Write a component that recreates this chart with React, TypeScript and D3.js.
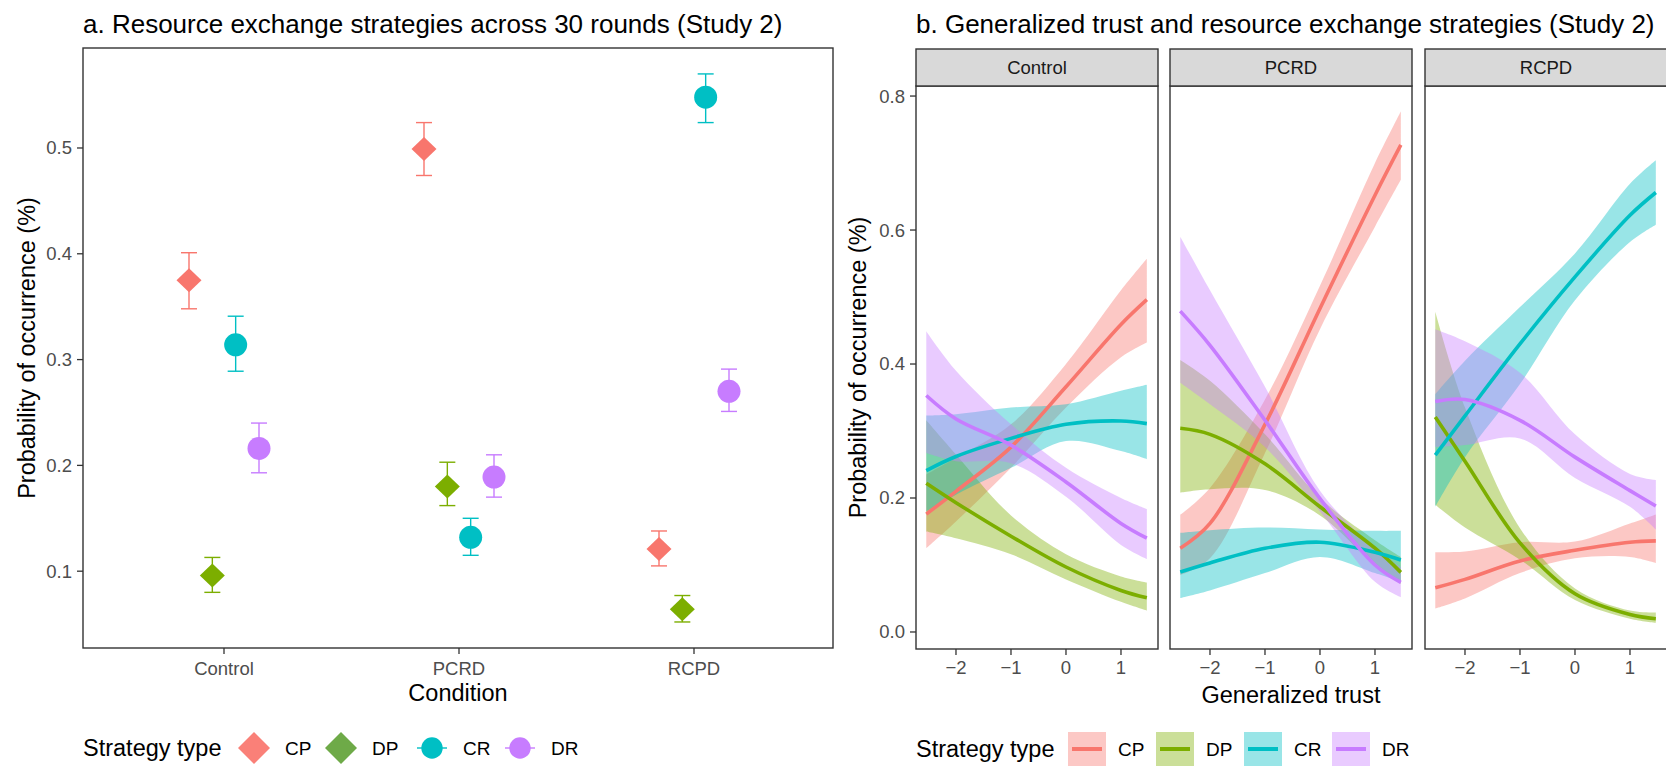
import React from "react";
import * as d3 from "d3";

// ---------- data ----------
const conditions = ["Control", "PCRD", "RCPD"];
const strategies = ["CP", "DP", "CR", "DR"];
const colors = ["#F8766D", "#7CAE00", "#00BFC4", "#C77CFF"];
const legendFillA = ["#FA8078", "#6EAA48", "#00BFC4", "#C77CFF"];

// Panel a: estimate, lower, upper per condition
const estCP = [0.375, 0.499, 0.121];
const lowCP = [0.348, 0.474, 0.105];
const highCP = [0.401, 0.524, 0.138];
const estDP = [0.096, 0.18, 0.064];
const lowDP = [0.08, 0.162, 0.052];
const highDP = [0.113, 0.203, 0.077];
const estCR = [0.314, 0.132, 0.548];
const lowCR = [0.289, 0.115, 0.524];
const highCR = [0.341, 0.15, 0.57];
const estDR = [0.216, 0.189, 0.27];
const lowDR = [0.193, 0.17, 0.251];
const highDR = [0.24, 0.21, 0.291];

const yTicksA = [0.1, 0.2, 0.3, 0.4, 0.5];

// Panel b: generalized trust grid and predicted values
const trust = [-2.54, -2, -1, 0, 1, 1.47];

const ctrlCPfit = [0.176, 0.21, 0.276, 0.366, 0.459, 0.496];
const ctrlCPlo = [0.125, 0.165, 0.245, 0.335, 0.41, 0.432];
const ctrlCPhi = [0.235, 0.26, 0.31, 0.4, 0.51, 0.557];
const ctrlDPfit = [0.222, 0.193, 0.143, 0.097, 0.062, 0.051];
const ctrlDPlo = [0.15, 0.14, 0.116, 0.0785, 0.045, 0.032];
const ctrlDPhi = [0.316, 0.265, 0.174, 0.116, 0.083, 0.074];
const ctrlCRfit = [0.241, 0.262, 0.289, 0.31, 0.315, 0.311];
const ctrlCRlo = [0.18, 0.205, 0.245, 0.285, 0.27, 0.258];
const ctrlCRhi = [0.323, 0.325, 0.335, 0.34, 0.36, 0.369];
const ctrlDRfit = [0.353, 0.318, 0.279, 0.224, 0.162, 0.14];
const ctrlDRlo = [0.267, 0.255, 0.252, 0.202, 0.13, 0.109];
const ctrlDRhi = [0.449, 0.39, 0.31, 0.245, 0.2, 0.1835];

const pcrdCPfit = [0.125, 0.162, 0.31, 0.483, 0.652, 0.727];
const pcrdCPlo = [0.085, 0.11, 0.267, 0.452, 0.605, 0.675];
const pcrdCPhi = [0.175, 0.215, 0.347, 0.517, 0.7, 0.777];
const pcrdDPfit = [0.304, 0.295, 0.251, 0.187, 0.125, 0.089];
const pcrdDPlo = [0.208, 0.213, 0.212, 0.174, 0.1, 0.072];
const pcrdDPhi = [0.406, 0.375, 0.295, 0.2, 0.137, 0.112];
const pcrdCRfit = [0.0896, 0.103, 0.125, 0.134, 0.119, 0.1075];
const pcrdCRlo = [0.0507, 0.062, 0.088, 0.112, 0.088, 0.075];
const pcrdCRhi = [0.148, 0.152, 0.156, 0.153, 0.151, 0.151];
const pcrdDRfit = [0.479, 0.428, 0.316, 0.199, 0.1, 0.074];
const pcrdDRlo = [0.372, 0.34, 0.276, 0.18, 0.075, 0.052];
const pcrdDRhi = [0.59, 0.51, 0.366, 0.211, 0.125, 0.097];

const rcpdCPfit = [0.066, 0.0785, 0.106, 0.122, 0.134, 0.136];
const rcpdCPlo = [0.035, 0.05, 0.088, 0.11, 0.112, 0.103];
const rcpdCPhi = [0.119, 0.12, 0.134, 0.135, 0.162, 0.1755];
const rcpdDPfit = [0.321, 0.255, 0.133, 0.057, 0.026, 0.0198];
const rcpdDPlo = [0.19, 0.156, 0.108, 0.0476, 0.0198, 0.0136];
const rcpdDPhi = [0.478, 0.335, 0.155, 0.065, 0.032, 0.029];
const rcpdCRfit = [0.264, 0.3226, 0.43, 0.53, 0.622, 0.656];
const rcpdCRlo = [0.187, 0.261, 0.37, 0.495, 0.582, 0.608];
const rcpdCRhi = [0.355, 0.405, 0.485, 0.565, 0.669, 0.704];
const rcpdDRfit = [0.344, 0.347, 0.316, 0.261, 0.211, 0.188];
const rcpdDRlo = [0.276, 0.279, 0.289, 0.23, 0.187, 0.153];
const rcpdDRhi = [0.452, 0.434, 0.387, 0.295, 0.236, 0.227];

const xTicksB = [-2, -1, 0, 1];
const yTicksB = [0, 0.2, 0.4, 0.6, 0.8];

// ---------- assembled tables ----------
const panelA = [
  { est: estCP, lo: lowCP, hi: highCP },
  { est: estDP, lo: lowDP, hi: highDP },
  { est: estCR, lo: lowCR, hi: highCR },
  { est: estDR, lo: lowDR, hi: highDR },
];
const panelB = [
  [
    { fit: ctrlCPfit, lo: ctrlCPlo, hi: ctrlCPhi },
    { fit: ctrlDPfit, lo: ctrlDPlo, hi: ctrlDPhi },
    { fit: ctrlCRfit, lo: ctrlCRlo, hi: ctrlCRhi },
    { fit: ctrlDRfit, lo: ctrlDRlo, hi: ctrlDRhi },
  ],
  [
    { fit: pcrdCPfit, lo: pcrdCPlo, hi: pcrdCPhi },
    { fit: pcrdDPfit, lo: pcrdDPlo, hi: pcrdDPhi },
    { fit: pcrdCRfit, lo: pcrdCRlo, hi: pcrdCRhi },
    { fit: pcrdDRfit, lo: pcrdDRlo, hi: pcrdDRhi },
  ],
  [
    { fit: rcpdCPfit, lo: rcpdCPlo, hi: rcpdCPhi },
    { fit: rcpdDPfit, lo: rcpdDPlo, hi: rcpdDPhi },
    { fit: rcpdCRfit, lo: rcpdCRlo, hi: rcpdCRhi },
    { fit: rcpdDRfit, lo: rcpdDRlo, hi: rcpdDRhi },
  ],
];

const FONT = "'Liberation Sans', Arial, Helvetica, sans-serif";
const AXIS = "#333333";
const TICKTXT = "#4D4D4D";
const CURVE = d3.curveCatmullRom.alpha(0.5);

export default function App() {
  // ----- panel a geometry -----
  const aL = 83, aR = 833, aT = 48, aB = 648;
  const xA = d3.scalePoint<string>().domain(conditions).range([224, 694]);
  const yA = d3.scaleLinear().domain([0.0274, 0.5945]).range([aB, aT]);
  const dodge = d3.scalePoint<string>().domain(strategies).range([-35, 35]);

  // ----- panel b geometry -----
  const bT = 86, bB = 649, stripT = 49;
  const facetLeft = [916, 1170, 1425];
  const facetW = 242;
  const yB = d3.scaleLinear().domain([-0.0254, 0.815]).range([bB, bT]);

  const diamond = (cx: number, cy: number, hw: number, hh: number) =>
    `M${cx},${cy - hh}L${cx + hw},${cy}L${cx},${cy + hh}L${cx - hw},${cy}Z`;

  return (
    <svg
      width={1666}
      height={768}
      style={{ position: "absolute", left: 0, top: 0, background: "#fff" }}
      fontFamily={FONT}
    >
      <rect x={0} y={0} width={1666} height={768} fill="#fff" />

      {/* ================= Panel a ================= */}
      <text x={aL} y={33} fontSize={26} fill="#000">
        a. Resource exchange strategies across 30 rounds (Study 2)
      </text>
      {yTicksA.map((t) => (
        <g key={t}>
          <line x1={aL - 6} x2={aL} y1={yA(t)} y2={yA(t)} stroke={AXIS} strokeWidth={1.3} />
          <text x={aL - 11} y={yA(t)} dy="0.35em" textAnchor="end" fontSize={18.5} fill={TICKTXT}>
            {d3.format(".1f")(t)}
          </text>
        </g>
      ))}
      {conditions.map((c) => (
        <g key={c}>
          <line x1={xA(c)} x2={xA(c)} y1={aB} y2={aB + 6} stroke={AXIS} strokeWidth={1.3} />
          <text x={xA(c)} y={669} dy="0.35em" textAnchor="middle" fontSize={18.5} fill={TICKTXT}>
            {c}
          </text>
        </g>
      ))}
      <text x={(aL + aR) / 2} y={693} dy="0.35em" textAnchor="middle" fontSize={23.5} fill="#000">
        Condition
      </text>
      <text
        transform={`translate(27,${(aT + aB) / 2}) rotate(-90)`}
        textAnchor="middle"
        dy="0.35em"
        fontSize={23.5}
        fill="#000"
      >
        Probability of occurrence (%)
      </text>

      {panelA.map((s, si) =>
        conditions.map((c, ci) => {
          const cx = (xA(c) as number) + (dodge(strategies[si]) as number);
          const cy = yA(s.est[ci]);
          const col = colors[si];
          return (
            <g key={`${si}-${ci}`}>
              <line x1={cx} x2={cx} y1={yA(s.lo[ci])} y2={yA(s.hi[ci])} stroke={col} strokeWidth={1.4} />
              <line x1={cx - 8} x2={cx + 8} y1={yA(s.lo[ci])} y2={yA(s.lo[ci])} stroke={col} strokeWidth={1.4} />
              <line x1={cx - 8} x2={cx + 8} y1={yA(s.hi[ci])} y2={yA(s.hi[ci])} stroke={col} strokeWidth={1.4} />
              {si < 2 ? (
                <path d={diamond(cx, cy, 12.5, 12)} fill={col} />
              ) : (
                <circle cx={cx} cy={cy} r={11.5} fill={col} />
              )}
            </g>
          );
        })
      )}
      <rect x={aL} y={aT} width={aR - aL} height={aB - aT} fill="none" stroke={AXIS} strokeWidth={1.4} />

      {/* legend a */}
      <text x={83} y={748} dy="0.35em" fontSize={23.5} fill="#000">
        Strategy type
      </text>
      {strategies.map((s, i) => {
        const cx = [254, 341, 432, 520][i];
        const cy = 748;
        return (
          <g key={s}>
            <line x1={cx - 15} x2={cx + 15} y1={cy} y2={cy} stroke={colors[i]} strokeWidth={1.4} />
            {i < 2 ? (
              <path d={diamond(cx, cy, 16, 16)} fill={legendFillA[i]} />
            ) : (
              <circle cx={cx} cy={cy} r={10.7} fill={colors[i]} />
            )}
            <text x={cx + 31} y={cy} dy="0.35em" fontSize={19} fill="#000">
              {s}
            </text>
          </g>
        );
      })}

      {/* ================= Panel b ================= */}
      <text x={916} y={33} fontSize={26} fill="#000">
        b. Generalized trust and resource exchange strategies (Study 2)
      </text>
      {yTicksB.map((t) => (
        <g key={t}>
          <line x1={facetLeft[0] - 6} x2={facetLeft[0]} y1={yB(t)} y2={yB(t)} stroke={AXIS} strokeWidth={1.3} />
          <text x={facetLeft[0] - 11} y={yB(t)} dy="0.35em" textAnchor="end" fontSize={18.5} fill={TICKTXT}>
            {d3.format(".1f")(t)}
          </text>
        </g>
      ))}
      <text
        transform={`translate(858,${(bT + bB) / 2}) rotate(-90)`}
        textAnchor="middle"
        dy="0.35em"
        fontSize={23.5}
        fill="#000"
      >
        Probability of occurrence (%)
      </text>
      <text x={1291} y={695} dy="0.35em" textAnchor="middle" fontSize={23.5} fill="#000">
        Generalized trust
      </text>

      {conditions.map((c, fi) => {
        const left = facetLeft[fi];
        const xB = d3.scaleLinear().domain([-2.727, 1.673]).range([left, left + facetW]);
        const line = d3
          .line<number>()
          .x((_, k) => xB(trust[k]))
          .y((d) => yB(d))
          .curve(CURVE);
        const series = panelB[fi];
        return (
          <g key={c}>
            <defs>
              <clipPath id={`clip-${fi}`}>
                <rect x={left} y={bT} width={facetW} height={bB - bT} />
              </clipPath>
            </defs>
            <g clipPath={`url(#clip-${fi})`}>
              {series.map((s, si) => {
                const ar = d3
                  .area<number>()
                  .x((_, k) => xB(trust[k]))
                  .y0((_, k) => yB(s.lo[k]))
                  .y1((_, k) => yB(s.hi[k]))
                  .curve(CURVE);
                return <path key={si} d={ar(s.fit) || ""} fill={colors[si]} fillOpacity={0.4} stroke="none" />;
              })}
              {series.map((s, si) => (
                <path key={si} d={line(s.fit) || ""} fill="none" stroke={colors[si]} strokeWidth={3.6} />
              ))}
            </g>
            <rect x={left} y={bT} width={facetW} height={bB - bT} fill="none" stroke={AXIS} strokeWidth={1.4} />
            <rect x={left} y={stripT} width={facetW} height={bT - stripT} fill="#D9D9D9" stroke={AXIS} strokeWidth={1.4} />
            <text x={left + facetW / 2} y={(stripT + bT) / 2} dy="0.35em" textAnchor="middle" fontSize={18.5} fill="#1A1A1A">
              {c}
            </text>
            {xTicksB.map((t) => (
              <g key={t}>
                <line x1={xB(t)} x2={xB(t)} y1={bB} y2={bB + 6} stroke={AXIS} strokeWidth={1.3} />
                <text x={xB(t)} y={668} dy="0.35em" textAnchor="middle" fontSize={18.5} fill={TICKTXT}>
                  {t < 0 ? `\u2212${Math.abs(t)}` : `${t}`}
                </text>
              </g>
            ))}
          </g>
        );
      })}

      {/* legend b */}
      <text x={916} y={749} dy="0.35em" fontSize={23.5} fill="#000">
        Strategy type
      </text>
      {strategies.map((s, i) => {
        const bx = 1068 + i * 88;
        return (
          <g key={s}>
            <rect x={bx} y={732} width={38} height={34} fill={colors[i]} fillOpacity={0.4} />
            <line x1={bx + 4} x2={bx + 34} y1={749} y2={749} stroke={colors[i]} strokeWidth={4} />
            <text x={bx + 50} y={749} dy="0.35em" fontSize={19} fill="#000">
              {s}
            </text>
          </g>
        );
      })}
    </svg>
  );
}
